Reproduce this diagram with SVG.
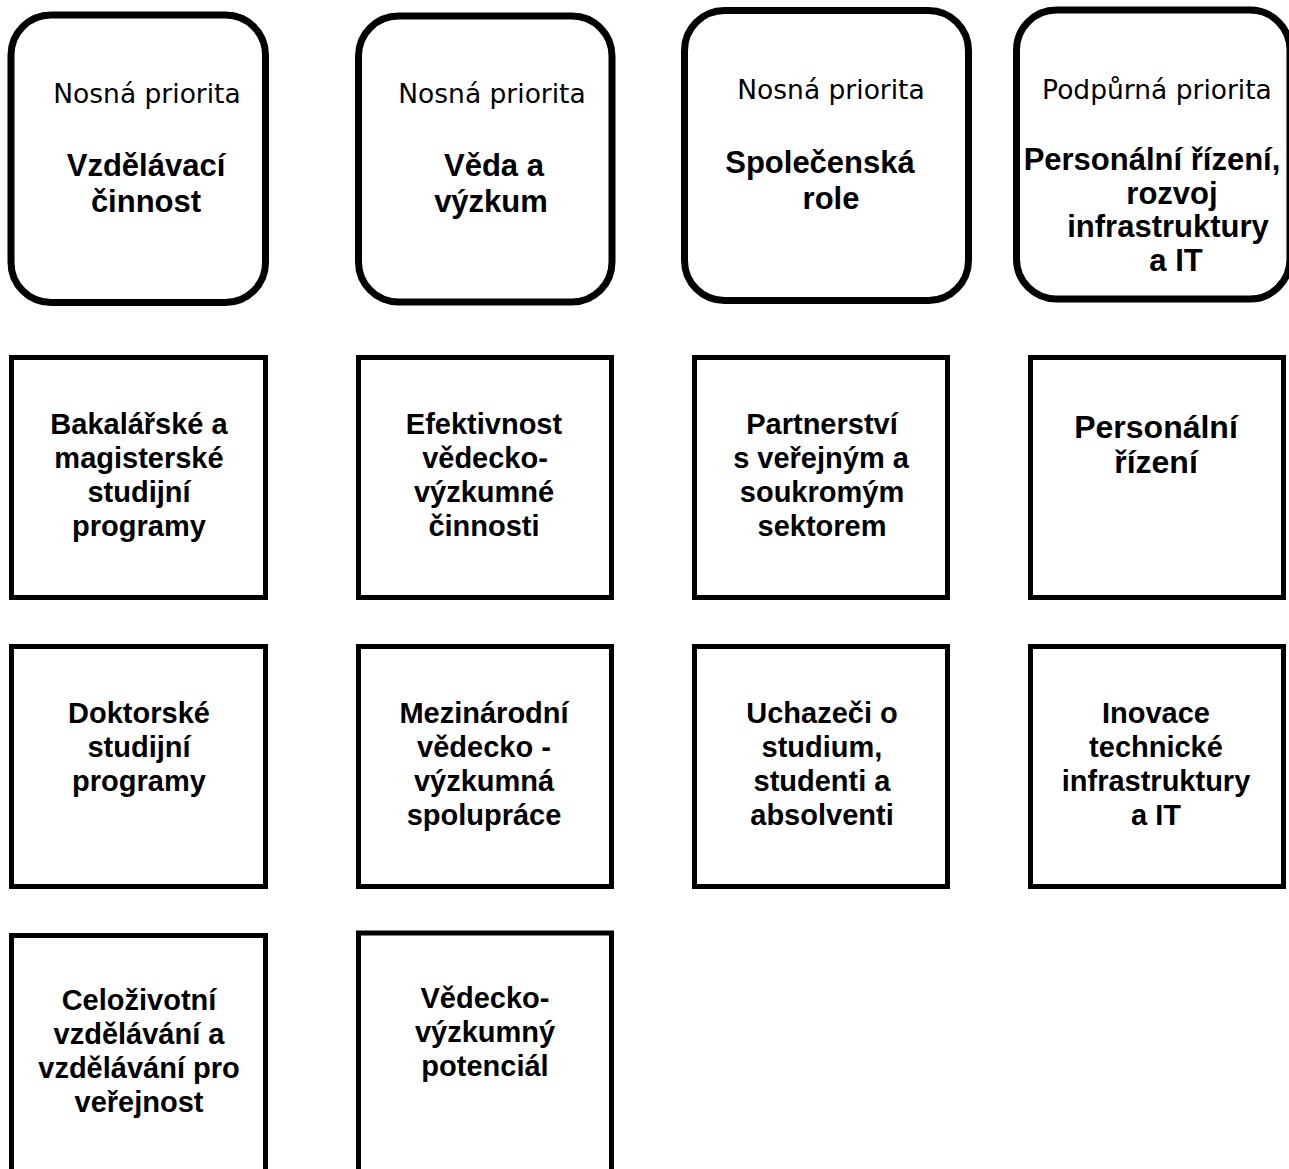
<svg xmlns="http://www.w3.org/2000/svg" width="1289" height="1169" viewBox="0 0 1289 1169">
<style>
.rb{fill:#fff;stroke:#000;stroke-width:7}
.sq{fill:#fff;stroke:#000;stroke-width:5}
.pr{font-family:"DejaVu Sans",Verdana,sans-serif;font-size:26.5px;fill:#000;text-anchor:middle}
.tt{font-family:"Liberation Sans",Arial,sans-serif;font-weight:bold;font-size:31px;fill:#000;text-anchor:middle}
.bx{font-family:"Liberation Sans",Arial,sans-serif;font-weight:bold;font-size:29px;fill:#000;text-anchor:middle}
.bxl{font-family:"Liberation Sans",Arial,sans-serif;font-weight:bold;font-size:32px;fill:#000;text-anchor:middle}
</style>
<rect width="1289" height="1169" fill="#fff"/>
<g id="connectors"></g>

<g id="p1">
<rect class="rb" x="11" y="15" width="254.5" height="287.5" rx="40"/>
<text class="pr" x="147" y="103">Nosná priorita</text>
<text class="tt" x="146" y="176">Vzdělávací</text>
<text class="tt" x="146" y="212">činnost</text>
</g>
<g id="p2">
<rect class="rb" x="358.5" y="16" width="253.5" height="286" rx="40"/>
<text class="pr" x="492" y="103">Nosná priorita</text>
<text class="tt" x="494" y="176">Věda a</text>
<text class="tt" x="491" y="212">výzkum</text>
</g>
<g id="p3">
<rect class="rb" x="684.5" y="10.5" width="284" height="290" rx="40"/>
<text class="pr" x="831" y="99">Nosná priorita</text>
<text class="tt" x="820" y="173">Společenská</text>
<text class="tt" x="831" y="209">role</text>
</g>
<g id="p4">
<rect class="rb" x="1016.5" y="10" width="273.5" height="289" rx="40"/>
<text class="pr" x="1157" y="99">Podpůrná priorita</text>
<text class="tt" x="1152" y="170">Personální řízení,</text>
<text class="tt" x="1172" y="204">rozvoj</text>
<text class="tt" x="1168" y="237">infrastruktury</text>
<text class="tt" x="1176" y="271">a IT</text>
</g>

<g id="b1">
<rect class="sq" x="11.5" y="357.5" width="254" height="240"/>
<text class="bx" x="139" y="434">Bakalářské a</text>
<text class="bx" x="139" y="468">magisterské</text>
<text class="bx" x="139" y="502">studijní</text>
<text class="bx" x="139" y="536">programy</text>
</g>
<g id="b2">
<rect class="sq" x="358.5" y="357.5" width="253" height="240"/>
<text class="bx" x="484" y="434">Efektivnost</text>
<text class="bx" x="485" y="468">vědecko-</text>
<text class="bx" x="484" y="502">výzkumné</text>
<text class="bx" x="484" y="536">činnosti</text>
</g>
<g id="b3">
<rect class="sq" x="694.5" y="357.5" width="253" height="240"/>
<text class="bx" x="822" y="434">Partnerství</text>
<text class="bx" x="821" y="468">s veřejným a</text>
<text class="bx" x="822" y="502">soukromým</text>
<text class="bx" x="822" y="536">sektorem</text>
</g>
<g id="b4">
<rect class="sq" x="1030.5" y="357.5" width="253" height="240"/>
<text class="bxl" x="1156" y="438">Personální</text>
<text class="bxl" x="1156" y="473">řízení</text>
</g>

<g id="c1">
<rect class="sq" x="11.5" y="646.5" width="254" height="240"/>
<text class="bx" x="139" y="723">Doktorské</text>
<text class="bx" x="139" y="757">studijní</text>
<text class="bx" x="139" y="791">programy</text>
</g>
<g id="c2">
<rect class="sq" x="358.5" y="646.5" width="253" height="240"/>
<text class="bx" x="484" y="723">Mezinárodní</text>
<text class="bx" x="484" y="757">vědecko -</text>
<text class="bx" x="484" y="791">výzkumná</text>
<text class="bx" x="484" y="825">spolupráce</text>
</g>
<g id="c3">
<rect class="sq" x="694.5" y="646.5" width="253" height="240"/>
<text class="bx" x="822" y="723">Uchazeči o</text>
<text class="bx" x="822" y="757">studium,</text>
<text class="bx" x="822" y="791">studenti a</text>
<text class="bx" x="822" y="825">absolventi</text>
</g>
<g id="c4">
<rect class="sq" x="1030.5" y="646.5" width="253" height="240"/>
<text class="bx" x="1156" y="723">Inovace</text>
<text class="bx" x="1156" y="757">technické</text>
<text class="bx" x="1156" y="791">infrastruktury</text>
<text class="bx" x="1156" y="825">a IT</text>
</g>

<g id="d1">
<rect class="sq" x="11.5" y="935.5" width="254" height="260"/>
<text class="bx" x="139" y="1010">Celoživotní</text>
<text class="bx" x="139" y="1044">vzdělávání a</text>
<text class="bx" x="139" y="1078">vzdělávání pro</text>
<text class="bx" x="139" y="1112">veřejnost</text>
</g>
<g id="d2">
<rect class="sq" x="358.5" y="933" width="253" height="260"/>
<text class="bx" x="485" y="1008">Vědecko-</text>
<text class="bx" x="485" y="1042">výzkumný</text>
<text class="bx" x="485" y="1076">potenciál</text>
</g>
</svg>
